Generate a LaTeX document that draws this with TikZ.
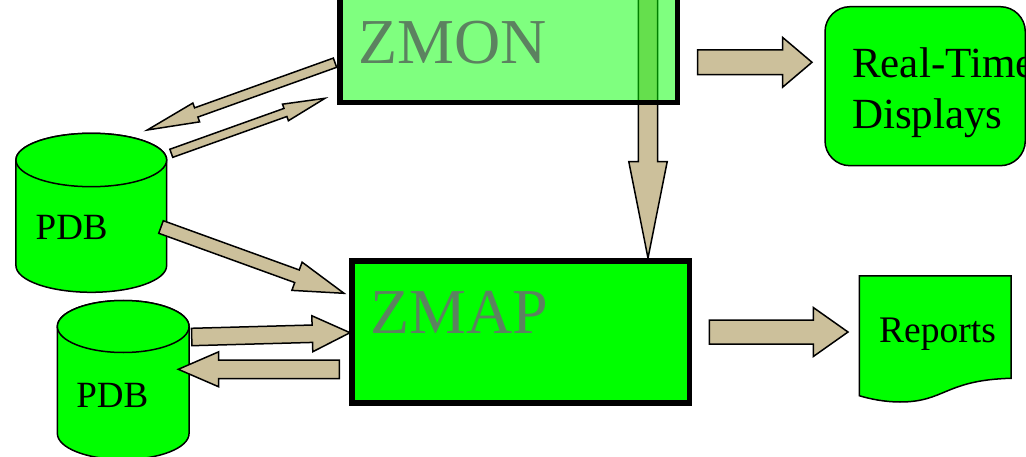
\documentclass[tikz,border=0pt]{standalone}
\usepackage{fontspec}
\setmainfont{Liberation Serif}
\usetikzlibrary{shapes, calc, positioning}

\definecolor{arrowtan}{RGB}{204,192,155}
\definecolor{boxtext}{RGB}{92,130,96}

\tikzset{
    blockarrow/.style={draw=black, line width=1.5pt, fill=arrowtan},
    procbox/.style={rectangle, draw=black, line width=5.5pt, inner sep=0pt, outer sep=0pt,
        minimum width=337.5pt, minimum height=142pt},
    pdbspace/.style={rectangle, inner sep=0pt, outer sep=0pt},
    drumline/.style={draw=black, line width=1.5pt, fill=green},
    proclabel/.style={inner sep=0pt, anchor=base west, text=boxtext, font=\fontsize{64}{64}\selectfont},
    pdblabel/.style={inner sep=0pt, anchor=base west, font=\fontsize{37}{37}\selectfont}
}

% from, to, half shaft, half head, head length
\newcommand{\fatarrow}[5]{%
    \coordinate (ab) at ($(#2)!#5pt!(#1)$);
    \draw[blockarrow] ($(#1)!#3pt!90:(#2)$) -- ($(ab)!#3pt!90:(#2)$) -- ($(ab)!#4pt!90:(#2)$)
        -- (#2) -- ($(ab)!#4pt!-90:(#2)$) -- ($(ab)!#3pt!-90:(#2)$) -- ($(#1)!#3pt!-90:(#2)$) -- cycle;
}

% node, x radius, y radius
\newcommand{\pdbdrum}[3]{%
    \draw[drumline] ($(#1.north west)+(0,#3)$) -- ($(#1.south west)+(0,-#3)$) arc (180:360:#2pt and #3pt)
        -- ($(#1.north east)+(0,#3)$) arc (0:180:#2pt and #3pt) -- cycle;
    \draw[drumline] ($(#1.north)+(0,#3)$) ellipse (#2pt and #3pt);
}

\begin{document}
\begin{tikzpicture}[x=1pt, y=-1pt]
    \useasboundingbox (0,0) rectangle (1026,457);
    \clip (0,0) rectangle (1026,457);

    % Main boxes
    \node[procbox, fill=green] (zmap) at (520.75,332) {};
    \coordinate (zmonc) at (508.75,31.5);

    % Arrow seen through the upper box
    \path (zmonc) ++(139.25,-71) coordinate (zmonbelow);
    \coordinate (zmapabove) at ($(zmap.north)+(127.25,-3)$);
    \fatarrow{zmonbelow}{zmapabove}{9.6}{19.2}{96.3}

    \node[procbox, fill=green, fill opacity=0.5, draw opacity=1] (zmon) at (zmonc) {};
    \node[proclabel] (zmontext) at (358,63.5) {ZMON};
    \node[proclabel] (zmaptext) at (370,333) {ZMAP};

    % Databases
    \node[pdbspace, minimum width=150.7pt, minimum height=159pt] (pdba) at (91.3,212.8) {};
    \node[pdbspace, minimum width=131.7pt, minimum height=159pt] (pdbb) at (123.2,380) {};
    \pdbdrum{pdba}{75.35}{26.7}
    \pdbdrum{pdbb}{65.85}{26}
    \node[pdblabel] (pdbatext) at (35.5,240) {PDB};
    \node[pdblabel] (pdbbtext) at (76.2,407) {PDB};

    % Real-time displays
    \node[rectangle, rounded corners=25pt, draw=black, line width=1.5pt, fill=green, inner sep=0pt,
        outer sep=0pt, minimum width=200.3pt, minimum height=159pt] (rtd) at (925.15,86.2) {};
    \node[inner sep=0pt, anchor=base west, font=\fontsize{43}{43}\selectfont] (rtdone) at (852,77.3) {Real-Time};
    \node[inner sep=0pt, anchor=base west, font=\fontsize{43}{43}\selectfont] (rtdtwo) at (852,128.3) {Displays};

    % Report sheet
    \draw[line width=1.5pt, fill=green] (859.3,276) -- (1011,276) -- (1011,378.3)
        .. controls (945,380) and (945,402) .. (900,402)
        .. controls (885,402) and (870,399) .. (859.3,395.7) -- cycle;
    \node[pdblabel, font=\fontsize{37.5}{37.5}\selectfont] (reports) at (879,342) {Reports};

    % Thin arrows at the upper box
    \coordinate (zmonout) at ($(zmon.west)+(-5,31.2)$);
    \coordinate (pdbain) at ($(pdba.center)+(56,-82.8)$);
    \fatarrow{zmonout}{pdbain}{4.9}{10}{52}
    \coordinate (pdbaout) at ($(pdba.center)+(80,-59.5)$);
    \coordinate (zmonin) at ($(zmon.west)+(-15,66.8)$);
    \fatarrow{pdbaout}{zmonin}{4.3}{8.8}{42}

    % Arrows at the lower box
    \coordinate (pdbafeed) at ($(pdba.center)+(69.7,14.2)$);
    \coordinate (zmapina) at ($(zmap.west)+(-8,-38.7)$);
    \fatarrow{pdbafeed}{zmapina}{6.7}{15}{50}
    \coordinate (pdbbout) at ($(pdbb.center)+(68.5,-43)$);
    \coordinate (zmapinb) at ($(zmap.west)+(-2,0.7)$);
    \fatarrow{pdbbout}{zmapinb}{8.7}{18}{37.7}
    \coordinate (zmapout) at ($(zmap.west)+(-12.7,37.3)$);
    \coordinate (pdbbin) at ($(pdbb.center)+(55.1,-10.7)$);
    \fatarrow{zmapout}{pdbbin}{9.2}{17.5}{40.4}

    % Output arrows
    \coordinate (zmonright) at ($(zmon.east)+(20,30.8)$);
    \coordinate (rtdin) at ($(rtd.west)+(-13,-23.9)$);
    \fatarrow{zmonright}{rtdin}{12.3}{24.8}{29.3}
    \coordinate (zmapright) at ($(zmap.east)+(19.8,0)$);
    \coordinate (reportsin) at ($(reports.west)+(-31,-1.7)$);
    \fatarrow{zmapright}{reportsin}{12}{24.5}{34.7}
\end{tikzpicture}
\end{document}
